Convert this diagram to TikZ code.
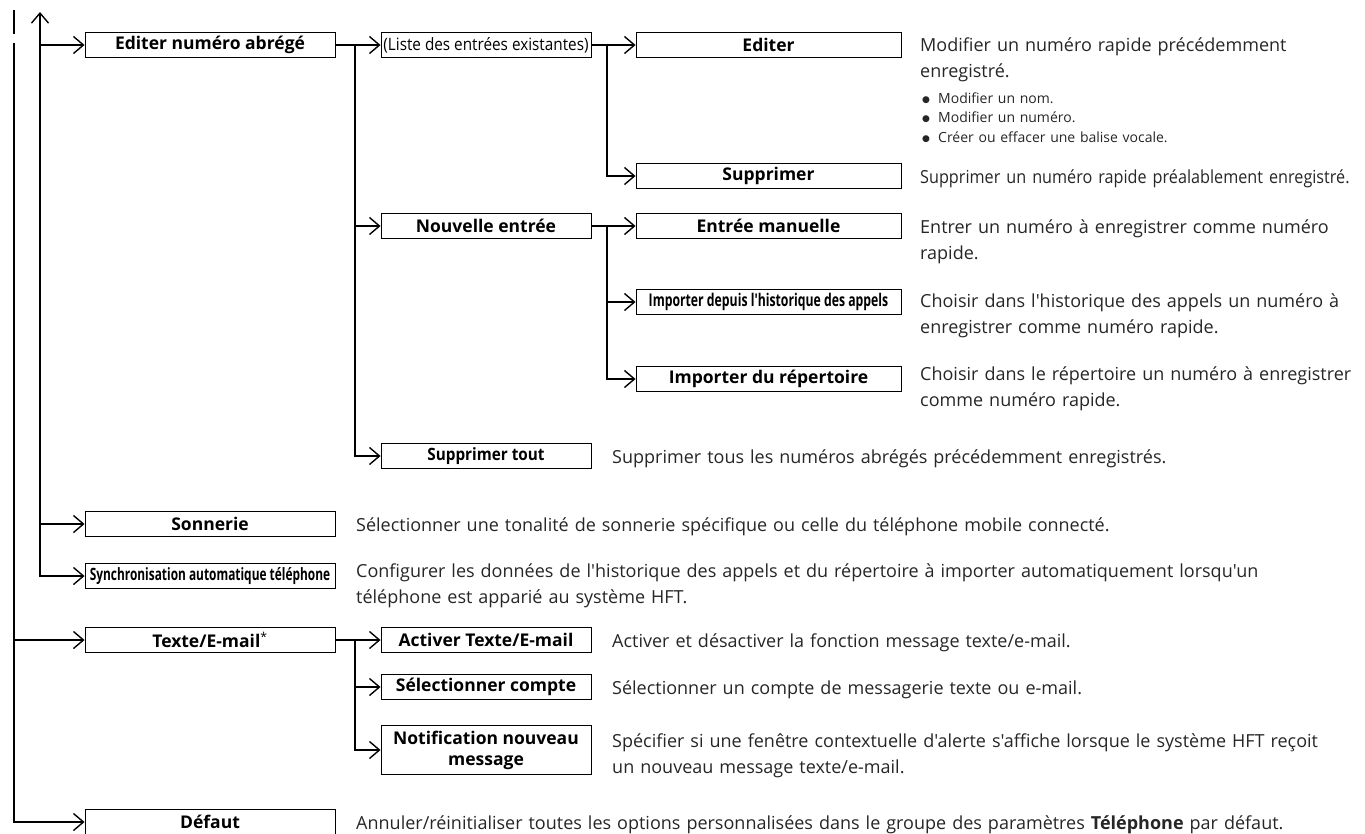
\documentclass[tikz,border=0pt]{standalone}
\usepackage{fontspec}
\setmainfont{Open Sans}[Ligatures=TeXOff]
\newfontfamily\narrowfont[FakeStretch=0.9]{Open Sans}
\newfontfamily\slimfont[FakeStretch=0.7]{Open Sans}
\newfontfamily\symfont{DejaVu Sans}
\usetikzlibrary{arrows.meta}
\tikzset{
  >={Straight Barb[length=10pt,width=17pt]},
  link/.style={line width=1.4pt},
  menu/.style={draw,line width=0.9pt,minimum height=25pt,inner sep=0pt,font=\fontsize{17.5}{21}\selectfont\bfseries},
  menua/.style={menu,minimum width=250pt},
  menub/.style={menu,minimum width=210pt},
  menuc/.style={menu,minimum width=265pt},
  slim/.style={font=\fontsize{17}{21}\slimfont\bfseries},
  info/.style={anchor=base west,inner sep=0pt,text width=1000pt,align=left,text=black!85,font=\fontsize{18}{26.5}\selectfont},
  dot/.style={font=\fontsize{14}{19.5}\selectfont},
}
\newcommand{\listdot}{\makebox[16pt][l]{\raisebox{1pt}{\symfont\fontsize{9}{9}\selectfont●}}}
\begin{document}
\begin{tikzpicture}[x=1pt,y=-1pt]
\useasboundingbox (0,0) rectangle (1365,833);
\pgfmathsetmacro{\cola}{210}
\pgfmathsetmacro{\colb}{486}
\pgfmathsetmacro{\colc}{768.5}
\pgfmathsetmacro{\infoa}{356}
\pgfmathsetmacro{\infob}{612}
\pgfmathsetmacro{\infoc}{920}

\node[menua] (edit) at (\cola,45) {Editer numéro abrégé};
\node[menua] (ring) at (\cola,524) {Sonnerie};
\node[menua,slim] (sync) at (\cola,576) {Synchronisation automatique téléphone};
\node[menua] (text) at (\cola,640) {Texte/E-mail\textsuperscript{\normalfont*}};
\node[menua] (reset) at (\cola,822) {Défaut};

\node[menub,font=\fontsize{17}{21}\narrowfont] (list) at (\colb,45) {(Liste des entrées existantes)};
\node[menub] (new) at (\colb,226) {Nouvelle entrée};
\node[menub,font=\fontsize{17}{21}\narrowfont\bfseries] (delall) at (\colb,456) {Supprimer tout};
\node[menub] (onoff) at (\colb,640) {Activer Texte/E-mail};
\node[menub] (acct) at (\colb,687) {Sélectionner compte};
\node[menub,minimum height=49pt,align=center] (notif) at (\colb,750) {Notification nouveau\\message};

\node[menuc] (modify) at (\colc,45) {Editer};
\node[menuc] (del) at (\colc,176) {Supprimer};
\node[menuc] (manual) at (\colc,226) {Entrée manuelle};
\node[menuc,slim,font=\fontsize{17.5}{21}\slimfont\bfseries] (hist) at (\colc,302) {Importer depuis l'historique des appels};
\node[menuc] (pbook) at (\colc,379) {Importer du répertoire};

\coordinate (outer) at (14,43);
\coordinate (inner) at (40,12);
\coordinate (ta) at (355,45);
\coordinate (tb) at (607,45);
\coordinate (tc) at (607,226);
\coordinate (td) at (355,640);

\draw[link] (14,10) -- (14,34);
\draw[link,->] (outer) |- (reset.west);
\draw[link,->] (outer |- text) -- (text.west);
\draw[link,<->] (inner) |- (sync.west);
\draw[link,->] (inner |- edit) -- (edit.west);
\draw[link,->] (inner |- ring) -- (ring.west);

\draw[link,->] (edit.east) -- (list.west);
\draw[link,->] (ta) |- (delall.west);
\draw[link,->] (ta |- new) -- (new.west);
\draw[link,->] (list.east) -- (modify.west);
\draw[link,->] (tb) |- (del.west);
\draw[link,->] (new.east) -- (manual.west);
\draw[link,->] (tc) |- (pbook.west);
\draw[link,->] (tc |- hist) -- (hist.west);
\draw[link,->] (text.east) -- (onoff.west);
\draw[link,->] (td) |- (notif.west);
\draw[link,->] (td |- acct) -- (acct.west);

\node[info] (dmodify) at (\infoc,51) {Modifier un numéro rapide précédemment\\enregistré.};
\node[info,dot] (dmodlist) at (\infoc+2,103)
  {\listdot Modifier un nom.\\\listdot Modifier un numéro.\\\listdot Créer ou effacer une balise vocale.};
\node[info,font=\fontsize{18}{26.5}\narrowfont] (ddel) at (\infoc,183) {Supprimer un numéro rapide préalablement enregistré.};
\node[info] (dmanual) at (\infoc,233) {Entrer un numéro à enregistrer comme numéro\\rapide.};
\node[info] (dhist) at (\infoc,307) {Choisir dans l'historique des appels un numéro à\\enregistrer comme numéro rapide.};
\node[info] (dpbook) at (\infoc,380) {Choisir dans le répertoire un numéro à enregistrer\\comme numéro rapide.};
\node[info] (ddelall) at (\infob,463) {Supprimer tous les numéros abrégés précédemment enregistrés.};
\node[info] (dring) at (\infoa,531) {Sélectionner une tonalité de sonnerie spécifique ou celle du téléphone mobile connecté.};
\node[info] (dsync) at (\infoa,577) {Configurer les données de l'historique des appels et du répertoire à importer automatiquement lorsqu'un\\téléphone est apparié au système HFT.};
\node[info] (donoff) at (\infob,647) {Activer et désactiver la fonction message texte/e-mail.};
\node[info] (dacct) at (\infob,694) {Sélectionner un compte de messagerie texte ou e-mail.};
\node[info] (dnotif) at (\infob,747) {Spécifier si une fenêtre contextuelle d'alerte s'affiche lorsque le système HFT reçoit\\un nouveau message texte/e-mail.};
\node[info] (dreset) at (\infoa,829) {Annuler/réinitialiser toutes les options personnalisées dans le groupe des paramètres \textbf{Téléphone} par défaut.};
\end{tikzpicture}
\end{document}
